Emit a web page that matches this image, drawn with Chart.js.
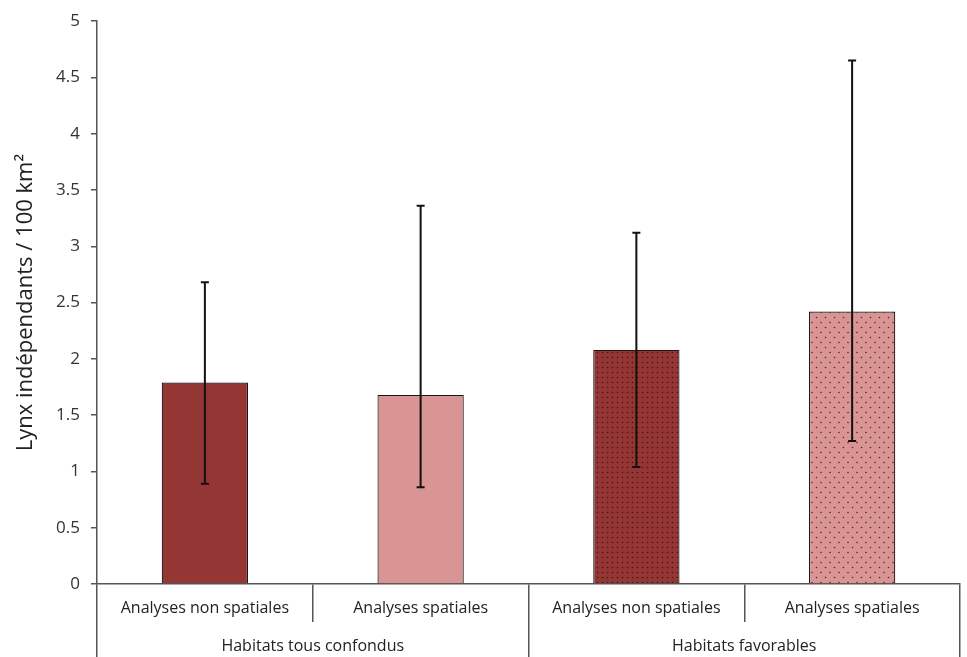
<!DOCTYPE html>
<html>
<head>
<meta charset="utf-8">
<script src="https://cdn.jsdelivr.net/npm/chart.js@4.4.1/dist/chart.umd.min.js"></script>
<style>
  body { margin: 0; background: #fff; }
  #wrap { width: 967px; height: 657px; }
</style>
</head>
<body>
<div id="wrap"><canvas id="chart-lynx" width="967" height="657"></canvas></div>
<script>
var categories = ['Analyses non spatiales', 'Analyses spatiales', 'Analyses non spatiales', 'Analyses spatiales'];
var groups = ['Habitats tous confondus', 'Habitats favorables'];
var means = [1.79, 1.68, 2.08, 2.42];
var lowErr = [0.89, 0.86, 1.04, 1.27];
var highErr = [2.68, 3.36, 3.12, 4.65];

var dark = '#943634';
var light = '#D99594';

function dotPattern(bg, dot, w, h, dots, r) {
    var c = document.createElement('canvas');
    c.width = w;
    c.height = h;
    var g = c.getContext('2d');
    g.fillStyle = bg;
    g.fillRect(0, 0, w, h);
    g.fillStyle = dot;
    dots.forEach(function (d) {
        g.beginPath();
        g.arc(d[0], d[1], r, 0, Math.PI * 2);
        g.fill();
    });
    return g.createPattern(c, 'repeat');
}

var ctx = document.getElementById('chart-lynx').getContext('2d');
var patDark = dotPattern(dark, '#4e1412', 5, 5, [[2.5, 2.5]], 0.8);
var patLight = dotPattern(light, '#5c2424', 9, 10, [[2, 2.5], [6.5, 7.5]], 0.8);

// error bars drawn from the y scale
var errorBars = {
    id: 'errorBars',
    afterDatasetsDraw: function (chart) {
        var meta = chart.getDatasetMeta(0);
        var y = chart.scales.y;
        var c = chart.ctx;
        c.save();
        c.strokeStyle = '#111';
        c.lineWidth = 2;
        meta.data.forEach(function (bar, i) {
            var top = y.getPixelForValue(highErr[i]);
            var bot = y.getPixelForValue(lowErr[i]);
            c.beginPath();
            c.moveTo(bar.x, top);
            c.lineTo(bar.x, bot);
            c.moveTo(bar.x - 4, top);
            c.lineTo(bar.x + 4, top);
            c.moveTo(bar.x - 4, bot);
            c.lineTo(bar.x + 4, bot);
            c.stroke();
        });
        c.restore();
    }
};

var font = 'Open Sans';

new Chart(ctx, {
    type: 'bar',
    data: {
        labels: categories,
        datasets: [{
            label: 'Lynx',
            data: means,
            backgroundColor: [dark, light, patDark, patLight],
            borderColor: '#1e1616',
            borderWidth: 1.2,
            barPercentage: 0.4,
            categoryPercentage: 1
        }]
    },
    options: {
        responsive: false,
        animation: false,
        layout: { padding: { top: 17, right: 7, left: 0, bottom: 0 } },
        plugins: {
            legend: { display: false },
            tooltip: { enabled: false }
        },
        scales: {
            y: {
                min: 0,
                max: 5,
                ticks: {
                    stepSize: 0.5,
                    color: '#333',
                    font: { family: font, size: 17 },
                    padding: 11,
                    callback: function (v) { return String(v); }
                },
                grid: { drawOnChartArea: false, tickLength: 6, color: '#555', lineWidth: 1.5 },
                border: { color: '#555', width: 1.5 },
                title: {
                    display: true,
                    text: 'Lynx indépendants / 100 km²',
                    color: '#222',
                    font: { family: font, size: 22 },
                    padding: { top: 13, bottom: 0 }
                },
                afterFit: function (s) { s.width = 97; }
            },
            x: {
                offset: true,
                ticks: {
                    color: '#222',
                    font: { family: font, size: 16 },
                    padding: -23,
                    maxRotation: 0
                },
                grid: { offset: true, drawOnChartArea: false, tickLength: 38, color: '#555', lineWidth: 1.5 },
                border: { color: '#555', width: 1.5 },
                afterFit: function (s) { s.height = 38; }
            },
            x2: {
                type: 'category',
                position: 'bottom',
                labels: groups,
                offset: true,
                ticks: {
                    color: '#222',
                    font: { family: font, size: 16 },
                    padding: -20,
                    maxRotation: 0
                },
                grid: { offset: true, drawOnChartArea: false, tickLength: 35, color: '#555', lineWidth: 1.5 },
                border: { display: false },
                afterFit: function (s) { s.height = 35; }
            }
        }
    },
    plugins: [errorBars]
});
</script>
</body>
</html>
